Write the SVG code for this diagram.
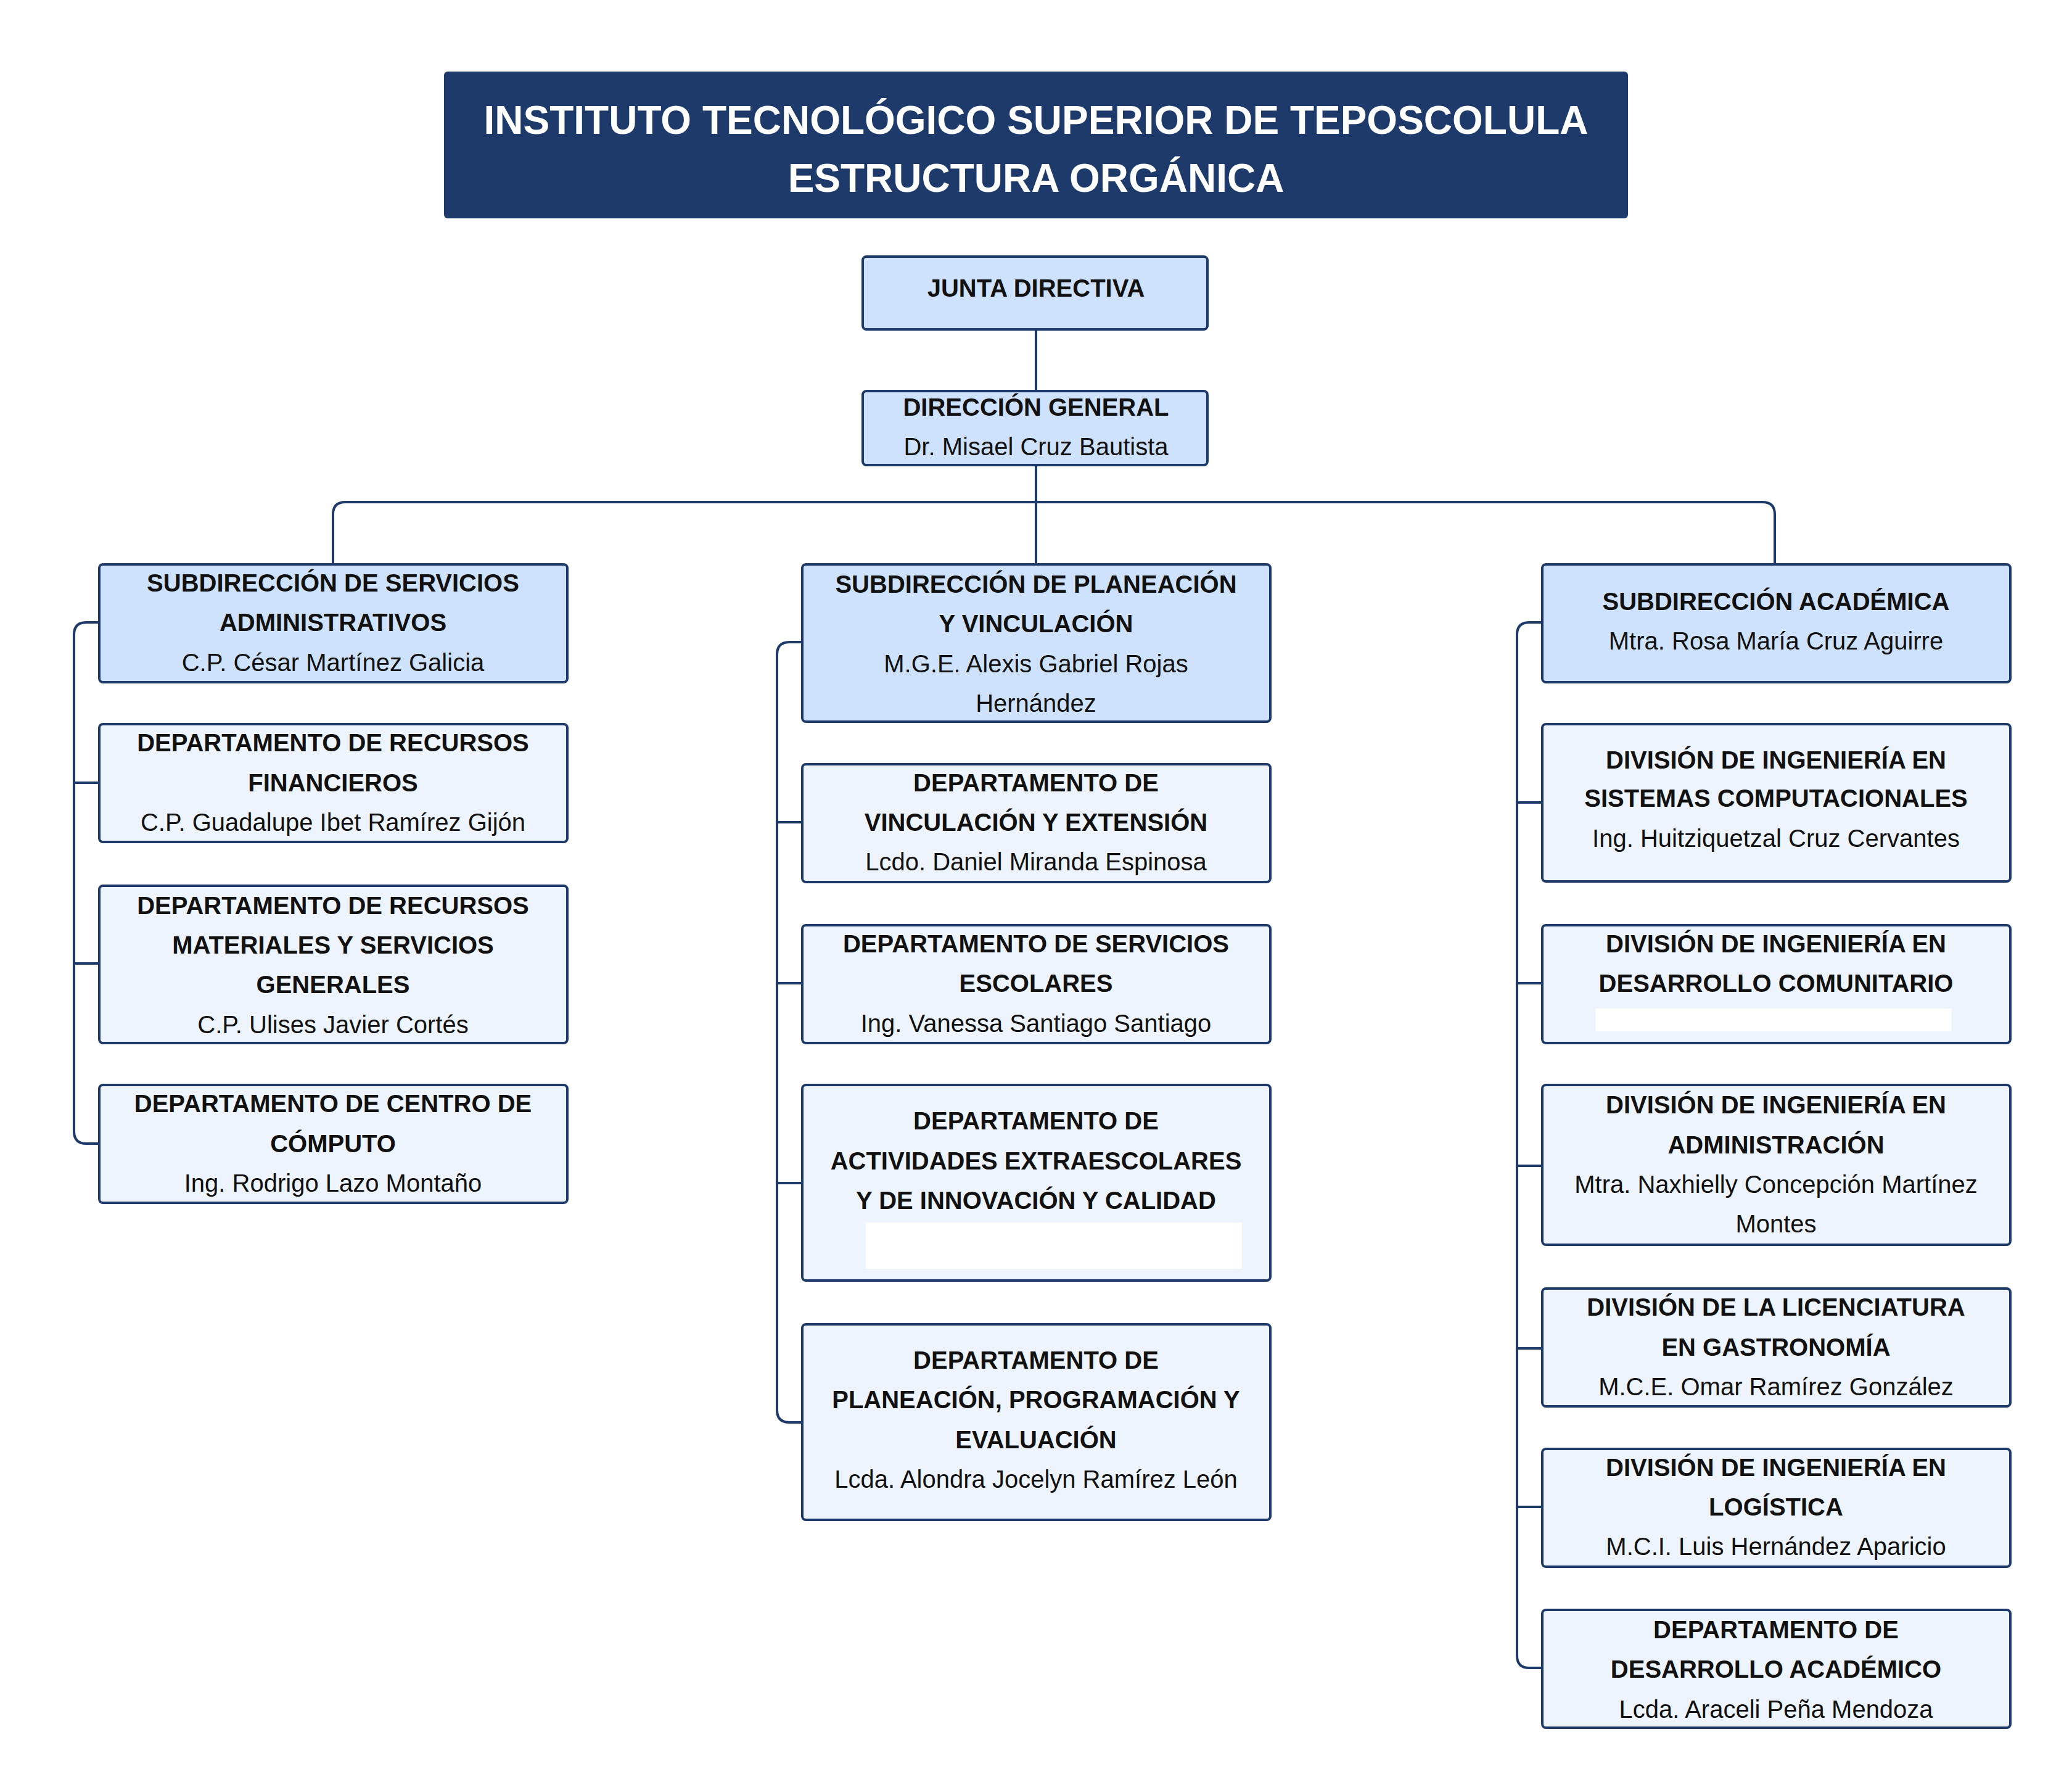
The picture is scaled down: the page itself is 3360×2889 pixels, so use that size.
<svg xmlns="http://www.w3.org/2000/svg" width="3360" height="2889" viewBox="0 0 3360 2889">
<style>
.b{fill:#edf4fe;stroke:#1e3a6b;stroke-width:4}
.h{fill:#cfe2fd;stroke:#1e3a6b;stroke-width:4}
text{font-family:"Liberation Sans",Arial,sans-serif;font-size:40px;fill:#111;text-anchor:middle;dominant-baseline:central}
.t{font-weight:bold}
.c{fill:none;stroke:#1e3a6b;stroke-width:4}
</style>
<rect width="3360" height="2889" fill="#fff"/>
<g id="title"><rect x="720" y="116" width="1920" height="238" rx="6" fill="#1e3a6b"/>
<text x="1680" y="195" class="t" style="fill:#fff;font-size:64px">INSTITUTO TECNOLÓGICO SUPERIOR DE TEPOSCOLULA</text>
<text x="1680" y="289" class="t" style="fill:#fff;font-size:64px">ESTRUCTURA ORGÁNICA</text></g>
<g id="connectors">
<path class="c" d="M1680 534V634M1680 754V915M540 915V834Q540 814 560 814H2858Q2878 814 2878 834V915"/>
<path class="c" d="M161 1009H140Q120 1009 120 1029V1834Q120 1854 140 1854H161M120 1269H161M120 1562H161"/>
<path class="c" d="M1301 1041H1280Q1260 1041 1260 1061V2286Q1260 2306 1280 2306H1301M1260 1333H1301M1260 1594H1301M1260 1918H1301"/>
<path class="c" d="M2501 1009H2480Q2460 1009 2460 1029V2684Q2460 2704 2480 2704H2501M2460 1301H2501M2460 1594H2501M2460 1890H2501M2460 2186H2501M2460 2443H2501"/>
</g>
<g id="junta"><rect class="h" x="1399" y="416" width="559" height="118" rx="6"/><text x="1680" y="467" class="t">JUNTA DIRECTIVA</text></g>
<g id="direccion"><rect class="h" x="1399" y="634" width="559" height="120" rx="6"/><text x="1680" y="660" class="t">DIRECCIÓN GENERAL</text><text x="1680" y="724">Dr. Misael Cruz Bautista</text></g>
<g id="L1"><rect class="h" x="161" y="915" width="759" height="191" rx="6"/><text x="540" y="945" class="t">SUBDIRECCIÓN DE SERVICIOS</text><text x="540" y="1009" class="t">ADMINISTRATIVOS</text><text x="540" y="1074">C.P. César Martínez Galicia</text></g>
<g id="L2"><rect class="b" x="161" y="1174" width="759" height="191" rx="6"/><text x="540" y="1204" class="t">DEPARTAMENTO DE RECURSOS</text><text x="540" y="1269" class="t">FINANCIEROS</text><text x="540" y="1333">C.P. Guadalupe Ibet Ramírez Gijón</text></g>
<g id="L3"><rect class="b" x="161" y="1436" width="759" height="255" rx="6"/><text x="540" y="1468" class="t">DEPARTAMENTO DE RECURSOS</text><text x="540" y="1532" class="t">MATERIALES Y SERVICIOS</text><text x="540" y="1596" class="t">GENERALES</text><text x="540" y="1661">C.P. Ulises Javier Cortés</text></g>
<g id="L4"><rect class="b" x="161" y="1759" width="759" height="191" rx="6"/><text x="540" y="1789" class="t">DEPARTAMENTO DE CENTRO DE</text><text x="540" y="1854" class="t">CÓMPUTO</text><text x="540" y="1918">Ing. Rodrigo Lazo Montaño</text></g>
<g id="M1"><rect class="h" x="1301" y="915" width="759" height="255" rx="6"/><text x="1680" y="947" class="t">SUBDIRECCIÓN DE PLANEACIÓN</text><text x="1680" y="1011" class="t">Y VINCULACIÓN</text><text x="1680" y="1076">M.G.E. Alexis Gabriel Rojas</text><text x="1680" y="1140">Hernández</text></g>
<g id="M2"><rect class="b" x="1301" y="1239" width="759" height="191" rx="6"/><text x="1680" y="1269" class="t">DEPARTAMENTO DE</text><text x="1680" y="1333" class="t">VINCULACIÓN Y EXTENSIÓN</text><text x="1680" y="1397">Lcdo. Daniel Miranda Espinosa</text></g>
<g id="M3"><rect class="b" x="1301" y="1500" width="759" height="191" rx="6"/><text x="1680" y="1530" class="t">DEPARTAMENTO DE SERVICIOS</text><text x="1680" y="1594" class="t">ESCOLARES</text><text x="1680" y="1659">Ing. Vanessa Santiago Santiago</text></g>
<g id="M4"><rect class="b" x="1301" y="1759" width="759" height="317" rx="6"/><text x="1680" y="1817" class="t">DEPARTAMENTO DE</text><text x="1680" y="1882" class="t">ACTIVIDADES EXTRAESCOLARES</text><text x="1680" y="1946" class="t">Y DE INNOVACIÓN Y CALIDAD</text><rect x="1404" y="1982" width="610" height="75" fill="#fff"/></g>
<g id="M5"><rect class="b" x="1301" y="2147" width="759" height="317" rx="6"/><text x="1680" y="2205" class="t">DEPARTAMENTO DE</text><text x="1680" y="2269" class="t">PLANEACIÓN, PROGRAMACIÓN  Y</text><text x="1680" y="2334" class="t">EVALUACIÓN</text><text x="1680" y="2398">Lcda. Alondra Jocelyn Ramírez León</text></g>
<g id="R1"><rect class="h" x="2501" y="915" width="759" height="191" rx="6"/><text x="2880" y="975" class="t">SUBDIRECCIÓN ACADÉMICA</text><text x="2880" y="1039">Mtra. Rosa María Cruz Aguirre</text></g>
<g id="R2"><rect class="b" x="2501" y="1174" width="759" height="255" rx="6"/><text x="2880" y="1232" class="t">DIVISIÓN DE INGENIERÍA EN</text><text x="2880" y="1294" class="t">SISTEMAS COMPUTACIONALES</text><text x="2880" y="1359">Ing. Huitziquetzal Cruz Cervantes</text></g>
<g id="R3"><rect class="b" x="2501" y="1500" width="759" height="191" rx="6"/><text x="2880" y="1530" class="t">DIVISIÓN DE INGENIERÍA EN</text><text x="2880" y="1594" class="t">DESARROLLO COMUNITARIO</text><rect x="2587" y="1635" width="578" height="37" fill="#fff"/></g>
<g id="R4"><rect class="b" x="2501" y="1759" width="759" height="259" rx="6"/><text x="2880" y="1791" class="t">DIVISIÓN DE INGENIERÍA EN</text><text x="2880" y="1856" class="t">ADMINISTRACIÓN</text><text x="2880" y="1920">Mtra. Naxhielly Concepción Martínez</text><text x="2880" y="1984">Montes</text></g>
<g id="R5"><rect class="b" x="2501" y="2089" width="759" height="191" rx="6"/><text x="2880" y="2119" class="t">DIVISIÓN DE LA LICENCIATURA</text><text x="2880" y="2184" class="t">EN GASTRONOMÍA</text><text x="2880" y="2248">M.C.E. Omar Ramírez González</text></g>
<g id="R6"><rect class="b" x="2501" y="2349" width="759" height="191" rx="6"/><text x="2880" y="2379" class="t">DIVISIÓN DE INGENIERÍA EN</text><text x="2880" y="2443" class="t">LOGÍSTICA</text><text x="2880" y="2507">M.C.I. Luis Hernández Aparicio</text></g>
<g id="R7"><rect class="b" x="2501" y="2610" width="759" height="191" rx="6"/><text x="2880" y="2642" class="t">DEPARTAMENTO DE</text><text x="2880" y="2706" class="t">DESARROLLO ACADÉMICO</text><text x="2880" y="2771">Lcda. Araceli Peña Mendoza</text></g>
</svg>
